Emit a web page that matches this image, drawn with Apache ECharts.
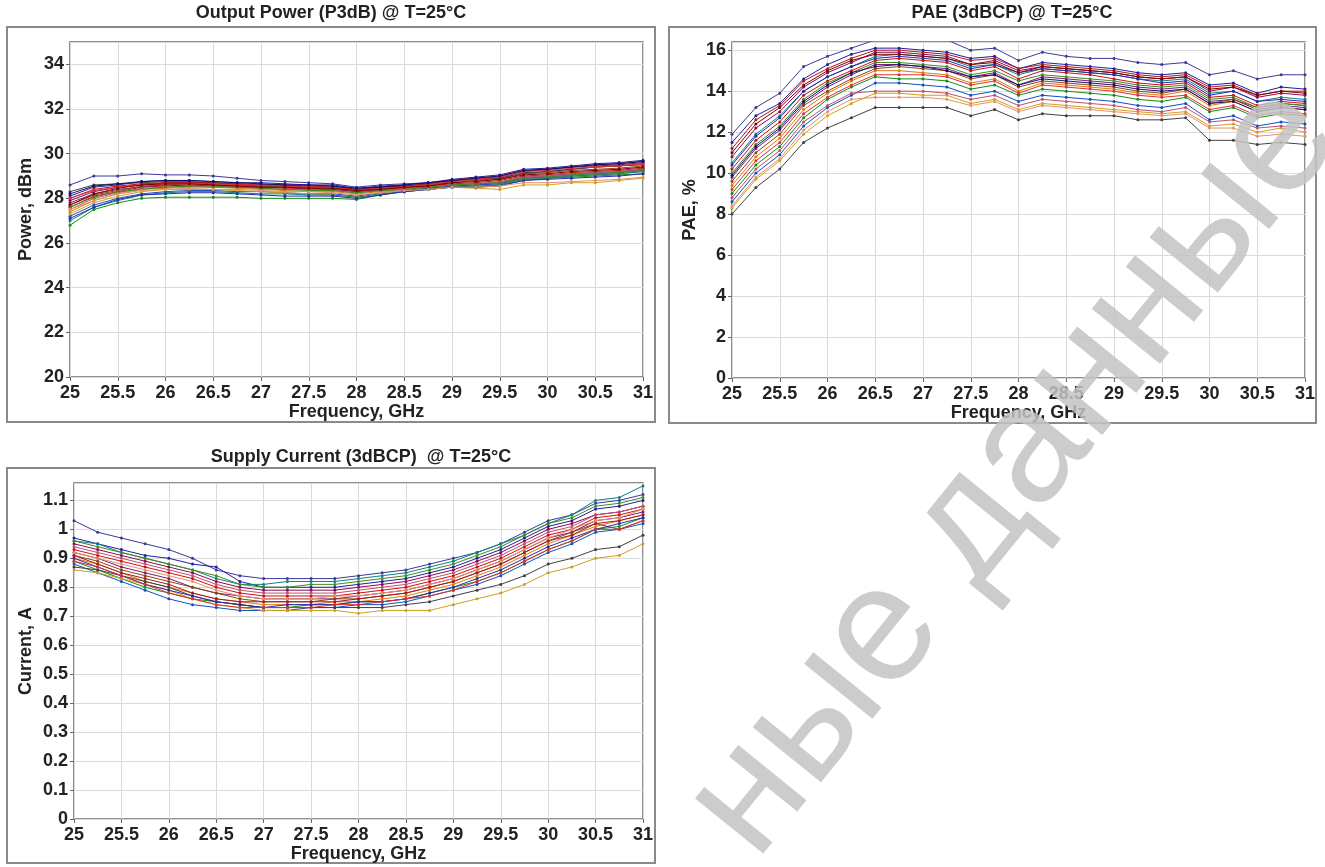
<!DOCTYPE html>
<html>
<head>
<meta charset="utf-8">
<script src="https://cdn.jsdelivr.net/npm/echarts@6/dist/echarts.min.js"></script>
<style>
html,body{margin:0;padding:0;background:#fff;}
#c{width:1325px;height:867px;}
</style>
</head>
<body>
<div id="c"></div>
<script>
// ---------- DATA ----------
const freq = [25,25.25,25.5,25.75,26,26.25,26.5,26.75,27,27.25,27.5,27.75,28,28.25,28.5,28.75,29,29.25,29.5,29.75,30,30.25,30.5,30.75,31];

const titles = ['Output Power (P3dB) @ T=25°C', 'PAE (3dBCP) @ T=25°C', 'Supply Current (3dBCP)  @ T=25°C'];
const xName = 'Frequency, GHz';
const yNames = ['Power, dBm', 'PAE, %', 'Current, A'];

// Output power, dBm
const pw1  = [28.6,29.0,29.0,29.1,29.05,29.05,29.0,28.9,28.8,28.75,28.7,28.65,28.5,28.6,28.65,28.7,28.8,28.85,28.9,29.1,29.2,29.3,29.4,29.45,29.55];
const pw2  = [28.1,28.5,28.6,28.75,28.8,28.8,28.75,28.7,28.7,28.65,28.6,28.6,28.45,28.55,28.6,28.7,28.85,28.95,29.05,29.3,29.35,29.45,29.55,29.6,29.7];
const pw3  = [27.9,28.3,28.5,28.6,28.7,28.7,28.65,28.65,28.6,28.6,28.55,28.55,28.4,28.5,28.55,28.65,28.8,28.9,28.95,29.2,29.3,29.4,29.45,29.5,29.6];
const pw4  = [27.6,28.1,28.3,28.5,28.55,28.6,28.55,28.55,28.5,28.45,28.45,28.4,28.3,28.4,28.45,28.55,28.65,28.7,28.8,29.0,29.05,29.15,29.2,29.25,29.35];
const pw5  = [27.8,28.2,28.4,28.5,28.6,28.55,28.6,28.5,28.5,28.5,28.4,28.4,28.3,28.35,28.45,28.5,28.6,28.65,28.7,28.95,29.0,29.1,29.15,29.2,29.3];
const pw6  = [27.4,27.9,28.2,28.4,28.45,28.5,28.5,28.45,28.4,28.35,28.3,28.3,28.2,28.3,28.4,28.45,28.55,28.6,28.65,28.85,28.9,29.0,29.05,29.1,29.2];
const pw7  = [26.8,27.5,27.8,28.0,28.05,28.05,28.05,28.05,28.0,28.0,28.0,28.0,27.95,28.15,28.3,28.4,28.5,28.5,28.6,28.8,28.9,28.95,29.0,29.05,29.1];
const pw8  = [27.2,27.7,28.0,28.2,28.3,28.35,28.35,28.3,28.3,28.25,28.2,28.2,28.1,28.25,28.35,28.45,28.55,28.6,28.65,28.9,28.95,29.05,29.1,29.15,29.25];
const pw9  = [27.3,27.8,28.1,28.3,28.4,28.4,28.4,28.35,28.3,28.25,28.2,28.15,28.05,28.2,28.3,28.4,28.5,28.45,28.4,28.6,28.6,28.7,28.7,28.8,28.9];
const pw10 = [28.3,28.6,28.65,28.7,28.75,28.75,28.7,28.6,28.55,28.55,28.5,28.5,28.35,28.45,28.5,28.6,28.75,28.8,28.9,29.15,29.2,29.3,29.4,29.45,29.5];
const pw11 = [27.0,27.6,27.9,28.15,28.25,28.3,28.3,28.25,28.2,28.2,28.15,28.15,28.05,28.2,28.3,28.4,28.5,28.55,28.6,28.85,28.9,29.0,29.05,29.1,29.2];
const pw12 = [27.7,28.15,28.35,28.55,28.6,28.65,28.6,28.6,28.55,28.5,28.5,28.45,28.35,28.45,28.5,28.6,28.7,28.8,28.85,29.1,29.15,29.25,29.3,29.35,29.45];
const pw13 = [27.5,28.0,28.25,28.45,28.5,28.55,28.5,28.5,28.45,28.4,28.4,28.35,28.25,28.35,28.45,28.5,28.6,28.65,28.75,28.95,29.0,29.1,29.15,29.2,29.3];
const pw14 = [28.0,28.4,28.55,28.65,28.7,28.7,28.7,28.65,28.6,28.6,28.55,28.5,28.4,28.5,28.55,28.65,28.8,28.9,29.0,29.25,29.3,29.4,29.5,29.55,29.65];
const pw15 = [27.1,27.6,27.95,28.15,28.2,28.25,28.25,28.2,28.15,28.1,28.1,28.1,28.0,28.15,28.3,28.4,28.5,28.5,28.55,28.8,28.85,28.9,28.95,29.0,29.1];
const pw16 = [27.6,28.05,28.3,28.4,28.5,28.55,28.55,28.5,28.45,28.4,28.35,28.35,28.25,28.35,28.4,28.5,28.6,28.65,28.7,28.9,28.95,29.05,29.1,29.15,29.25];
const pw17 = [28.0,28.35,28.5,28.6,28.65,28.65,28.65,28.6,28.6,28.55,28.5,28.5,28.35,28.45,28.5,28.6,28.75,28.85,28.95,29.2,29.25,29.35,29.4,29.45,29.55];
const pw18 = [27.5,27.9,28.2,28.35,28.4,28.45,28.4,28.4,28.35,28.3,28.3,28.25,28.15,28.25,28.35,28.4,28.5,28.5,28.55,28.7,28.7,28.75,28.8,28.85,28.95];
const pw19 = [27.7,28.2,28.45,28.6,28.65,28.65,28.6,28.55,28.5,28.5,28.45,28.45,28.35,28.4,28.5,28.55,28.7,28.75,28.85,29.05,29.1,29.2,29.25,29.3,29.4];
const pw20 = [28.2,28.55,28.65,28.75,28.8,28.8,28.75,28.7,28.65,28.6,28.6,28.55,28.45,28.5,28.6,28.7,28.8,28.9,29.0,29.25,29.3,29.4,29.5,29.55,29.65];

// PAE, %
const pae1  = [11.9,13.2,13.9,15.2,15.7,16.1,16.5,16.5,16.5,16.5,16.0,16.1,15.5,15.9,15.7,15.6,15.6,15.4,15.3,15.4,14.8,15.0,14.6,14.8,14.8];
const pae2  = [11.5,12.8,13.4,14.6,15.3,15.8,16.1,16.1,16.0,15.9,15.6,15.7,15.1,15.4,15.3,15.2,15.1,14.9,14.8,14.9,14.3,14.4,13.9,14.2,14.1];
const pae3  = [10.8,12.2,13.0,14.2,14.9,15.4,15.9,15.9,15.8,15.7,15.3,15.5,15.0,15.2,15.1,15.0,14.9,14.7,14.6,14.7,14.0,14.2,13.7,13.9,13.8];
const pae4  = [10.2,11.6,12.5,13.8,14.5,15.0,15.5,15.6,15.5,15.4,15.0,15.2,14.6,15.0,14.9,14.8,14.6,14.4,14.3,14.4,13.7,13.8,13.3,13.5,13.4];
const pae5  = [9.8,11.2,12.1,13.4,14.2,14.8,15.3,15.3,15.2,15.1,14.7,14.9,14.3,14.7,14.6,14.5,14.4,14.2,14.1,14.2,13.5,13.6,13.1,13.3,13.2];
const pae6  = [9.4,10.8,11.7,13.1,13.9,14.5,15.0,15.0,14.9,14.8,14.4,14.6,14.0,14.4,14.3,14.2,14.1,13.9,13.8,14.0,13.3,13.5,13.0,13.2,13.1];
const pae7  = [9.0,10.4,11.3,12.7,13.6,14.2,14.7,14.6,14.6,14.5,14.1,14.3,13.8,14.1,14.0,13.9,13.8,13.6,13.5,13.7,13.0,13.2,12.7,12.9,12.8];
const pae8  = [8.6,10.0,10.9,12.3,13.2,13.8,14.4,14.4,14.3,14.2,13.8,14.0,13.5,13.8,13.7,13.6,13.5,13.3,13.2,13.4,12.6,12.8,12.3,12.5,12.4];
const pae9  = [8.3,9.7,10.6,11.9,12.8,13.4,13.9,13.9,13.8,13.8,13.4,13.6,13.1,13.4,13.3,13.2,13.1,13.0,12.9,13.0,12.3,12.4,12.0,12.2,12.0];
const pae10 = [8.0,9.3,10.2,11.5,12.2,12.7,13.2,13.2,13.2,13.2,12.8,13.1,12.6,12.9,12.8,12.8,12.8,12.6,12.6,12.7,11.6,11.6,11.4,11.5,11.4];
const pae11 = [10.5,11.9,12.8,14.0,14.7,15.2,15.7,15.8,15.7,15.6,15.2,15.3,14.8,15.1,15.0,14.9,14.8,14.6,14.5,14.6,13.9,14.0,13.5,13.7,13.6];
const pae12 = [9.6,11.0,11.9,13.3,14.0,14.6,15.1,15.2,15.1,15.0,14.6,14.8,14.2,14.5,14.4,14.3,14.2,14.0,13.9,14.1,13.4,13.6,13.2,13.4,13.3];
const pae13 = [8.8,10.2,11.1,12.5,13.3,13.9,14.0,14.0,14.0,13.9,13.6,13.8,13.3,13.6,13.5,13.4,13.3,13.1,13.0,13.2,12.5,12.6,12.2,12.3,12.2];
const pae14 = [11.2,12.6,13.3,14.5,15.1,15.6,16.0,16.0,15.9,15.8,15.5,15.6,15.1,15.3,15.2,15.1,15.0,14.8,14.7,14.8,14.2,14.3,13.8,14.0,14.0];
const pae15 = [10.4,11.8,12.7,14.0,14.7,15.2,15.6,15.7,15.6,15.5,15.1,15.3,14.9,15.1,15.0,14.9,14.8,14.6,14.4,14.5,13.8,14.0,13.5,13.6,13.5];
const pae16 = [10.0,11.4,12.3,13.6,14.4,14.9,15.4,15.4,15.3,15.2,14.8,15.0,14.5,14.8,14.7,14.6,14.5,14.3,14.2,14.3,13.6,13.7,13.2,13.4,13.3];
const pae17 = [9.2,10.6,11.5,12.9,13.7,14.3,14.8,14.8,14.8,14.7,14.3,14.5,13.9,14.3,14.2,14.1,14.0,13.8,13.7,13.8,13.1,13.3,12.8,13.0,12.9];
const pae18 = [8.4,9.8,10.7,12.1,13.0,13.6,13.7,13.7,13.7,13.6,13.3,13.5,13.0,13.3,13.2,13.1,13.0,12.9,12.8,12.9,12.2,12.2,11.8,11.9,11.8];
const pae19 = [11.0,12.4,13.2,14.3,15.0,15.5,15.8,15.8,15.7,15.6,15.3,15.4,14.9,15.2,15.1,15.0,14.9,14.7,14.6,14.7,14.1,14.2,13.8,14.0,13.9];
const pae20 = [9.9,11.3,12.2,13.5,14.3,14.9,15.2,15.3,15.2,15.0,14.7,14.8,14.3,14.6,14.5,14.4,14.3,14.1,14.0,14.1,13.4,13.5,13.0,13.2,13.1];

// Supply current, A
const cur1  = [1.03,0.99,0.97,0.95,0.93,0.90,0.86,0.84,0.83,0.83,0.83,0.83,0.84,0.85,0.86,0.88,0.90,0.92,0.95,0.99,1.03,1.05,1.09,1.10,1.12];
const cur2  = [0.97,0.95,0.93,0.91,0.90,0.88,0.87,0.82,0.80,0.80,0.80,0.80,0.81,0.82,0.83,0.85,0.87,0.90,0.93,0.97,1.01,1.03,1.07,1.08,1.10];
const cur3  = [0.95,0.93,0.91,0.89,0.87,0.85,0.82,0.80,0.79,0.79,0.79,0.79,0.80,0.81,0.82,0.84,0.86,0.89,0.92,0.96,1.00,1.02,1.05,1.06,1.08];
const cur4  = [0.93,0.91,0.89,0.87,0.85,0.83,0.80,0.78,0.77,0.77,0.77,0.77,0.78,0.79,0.80,0.82,0.84,0.87,0.90,0.94,0.98,1.00,1.04,1.05,1.07];
const cur5  = [0.92,0.90,0.87,0.85,0.83,0.80,0.78,0.77,0.76,0.76,0.76,0.76,0.77,0.78,0.79,0.81,0.83,0.86,0.89,0.93,0.97,0.99,1.03,1.04,1.06];
const cur6  = [0.90,0.88,0.85,0.82,0.80,0.78,0.76,0.75,0.74,0.74,0.74,0.75,0.75,0.76,0.77,0.79,0.81,0.84,0.87,0.91,0.95,0.98,1.01,1.03,1.05];
const cur7  = [0.89,0.86,0.83,0.80,0.78,0.76,0.75,0.74,0.73,0.73,0.74,0.74,0.75,0.75,0.76,0.78,0.80,0.82,0.85,0.89,0.93,0.96,1.00,1.01,1.04];
const cur8  = [0.88,0.85,0.82,0.79,0.76,0.74,0.73,0.72,0.72,0.72,0.73,0.73,0.74,0.74,0.75,0.77,0.79,0.81,0.84,0.88,0.92,0.95,0.99,1.00,1.02];
const cur9  = [0.86,0.85,0.83,0.81,0.79,0.76,0.74,0.73,0.72,0.72,0.72,0.72,0.71,0.72,0.72,0.72,0.74,0.76,0.78,0.81,0.85,0.87,0.90,0.91,0.95];
const cur10 = [0.87,0.86,0.84,0.82,0.80,0.77,0.75,0.74,0.73,0.73,0.73,0.73,0.73,0.73,0.74,0.75,0.77,0.79,0.81,0.84,0.88,0.90,0.93,0.94,0.98];
const cur11 = [0.96,0.95,0.92,0.90,0.88,0.86,0.83,0.81,0.81,0.82,0.82,0.82,0.83,0.84,0.85,0.87,0.89,0.92,0.95,0.98,1.02,1.05,1.10,1.11,1.15];
const cur12 = [0.91,0.89,0.86,0.84,0.82,0.80,0.78,0.76,0.75,0.75,0.75,0.76,0.76,0.77,0.78,0.80,0.82,0.85,0.88,0.92,0.96,0.99,1.02,1.00,1.03];
const cur13 = [0.94,0.92,0.90,0.88,0.86,0.84,0.81,0.79,0.78,0.78,0.78,0.78,0.79,0.80,0.81,0.83,0.85,0.88,0.91,0.95,0.99,1.01,1.05,1.06,1.08];
const cur14 = [0.91,0.88,0.85,0.83,0.81,0.78,0.76,0.75,0.75,0.75,0.75,0.75,0.76,0.77,0.78,0.80,0.82,0.85,0.88,0.92,0.96,0.98,1.02,1.03,1.05];
const cur15 = [0.90,0.87,0.84,0.81,0.79,0.77,0.75,0.74,0.73,0.74,0.74,0.74,0.75,0.75,0.76,0.78,0.80,0.83,0.86,0.90,0.94,0.97,1.00,1.02,1.04];
const cur16 = [0.96,0.94,0.92,0.90,0.88,0.86,0.84,0.81,0.80,0.80,0.81,0.81,0.82,0.83,0.84,0.86,0.88,0.91,0.94,0.98,1.02,1.04,1.08,1.09,1.11];
const cur17 = [0.89,0.87,0.84,0.81,0.78,0.76,0.74,0.73,0.73,0.73,0.73,0.74,0.74,0.75,0.76,0.77,0.79,0.82,0.85,0.89,0.93,0.96,1.00,1.00,1.03];
const cur18 = [0.92,0.90,0.88,0.86,0.84,0.82,0.79,0.77,0.76,0.76,0.76,0.77,0.77,0.78,0.79,0.81,0.83,0.86,0.89,0.93,0.97,1.00,1.03,1.04,1.07];

const powerSeries = [pw1,pw2,pw3,pw4,pw5,pw6,pw7,pw8,pw9,pw10,pw11,pw12,pw13,pw14,pw15,pw16,pw17,pw18,pw19,pw20];
const paeSeries = [pae1,pae2,pae3,pae4,pae5,pae6,pae7,pae8,pae9,pae10,pae11,pae12,pae13,pae14,pae15,pae16,pae17,pae18,pae19,pae20];
const curSeries = [cur1,cur2,cur3,cur4,cur5,cur6,cur7,cur8,cur9,cur10,cur11,cur12,cur13,cur14,cur15,cur16,cur17,cur18];

const palette = ['#3a3a9a','#1f1fa0','#8b0a50','#d01010','#7a1a7a','#e07a10','#109010','#1050c0','#d0a020','#404040',
                 '#108080','#8b4513','#c05070','#b01818','#2a2ab0','#3c8c20','#e03030','#e8906a','#800000','#101070'];
const watermarkText = 'ные данные';

// ---------- CHART ----------
const FONT = 'Arial, "Liberation Sans", sans-serif';
const grids = [
  {left:70, top:42, width:573, height:335},
  {left:732, top:42, width:573, height:336},
  {left:74, top:483, width:569, height:336}
];
const yDefs = [
  {min:20, max:35, interval:2, gap:35},
  {min:0, max:16.4, interval:2, gap:33},
  {min:0, max:1.16, interval:0.1, gap:39}
];

function mkX(i){
  return {
    type:'value', gridIndex:i, min:25, max:31, interval:0.5,
    name:xName, nameLocation:'middle', nameGap:26,
    nameTextStyle:{fontFamily:FONT, fontWeight:'bold', fontSize:18, color:'#222'},
    axisLine:{show:false},
    axisTick:{show:true, inside:false, length:4, lineStyle:{color:'#666'}},
    axisLabel:{fontFamily:FONT, fontWeight:'bold', fontSize:18, color:'#222', margin:7, showMinLabel:true, showMaxLabel:true},
    splitLine:{show:true, lineStyle:{color:'#dadada', width:1}}
  };
}
function mkY(i){
  const d = yDefs[i];
  return {
    type:'value', gridIndex:i, min:d.min, max:d.max, interval:d.interval,
    name:yNames[i], nameLocation:'middle', nameGap:d.gap, nameRotate:90,
    nameTextStyle:{fontFamily:FONT, fontWeight:'bold', fontSize:18, color:'#222'},
    axisLine:{show:false},
    axisTick:{show:true, inside:false, length:4, lineStyle:{color:'#666'}},
    axisLabel:{fontFamily:FONT, fontWeight:'bold', fontSize:18, color:'#222', margin:6, showMaxLabel:false},
    splitLine:{show:true, lineStyle:{color:'#dadada', width:1}}
  };
}

const series = [];
[powerSeries, paeSeries, curSeries].forEach((group, gi) => {
  group.forEach((vals, si) => {
    const col = palette[si % palette.length];
    series.push({
      type:'line', xAxisIndex:gi, yAxisIndex:gi,
      data: freq.map((f, k) => [f, vals[k]]),
      symbol:'circle', symbolSize:3, showSymbol:true,
      lineStyle:{width:1, color:col},
      itemStyle:{color:col},
      clip:true, silent:true, animation:false
    });
  });
});

const titleCenters = [[331, 13], [1012, 13], [361, 457]];
const graphics = [];
// panel frames
[[7,27,648,395],[669,27,647,396],[7,468,648,395]].forEach(r => {
  graphics.push({type:'rect', shape:{x:r[0], y:r[1], width:r[2], height:r[3]},
    style:{fill:'none', stroke:'#8a8a8a', lineWidth:2}, z:-1, silent:true});
});
titles.forEach((t, i) => {
  graphics.push({type:'text', x:titleCenters[i][0], y:titleCenters[i][1],
    style:{text:t, font:'bold 18px ' + FONT, fill:'#222', textAlign:'center', textVerticalAlign:'middle'}, silent:true});
});
// watermark
graphics.push({type:'text', x:785, y:886, rotation:51*Math.PI/180, z:100,
  style:{text:watermarkText, font:'166px ' + FONT, fill:'rgba(195,195,195,0.85)', textAlign:'left', textVerticalAlign:'bottom'}, silent:true});

const chart = echarts.init(document.getElementById('c'), null, {renderer:'canvas'});
chart.setOption({
  animation:false,
  backgroundColor:'#fff',
  grid: grids.map(g => Object.assign({show:true, borderColor:'#6a6a6a', borderWidth:1.5, backgroundColor:'#fff'}, g)),
  xAxis:[mkX(0), mkX(1), mkX(2)],
  yAxis:[mkY(0), mkY(1), mkY(2)],
  series: series,
  graphic: graphics
});
</script>
</body>
</html>
